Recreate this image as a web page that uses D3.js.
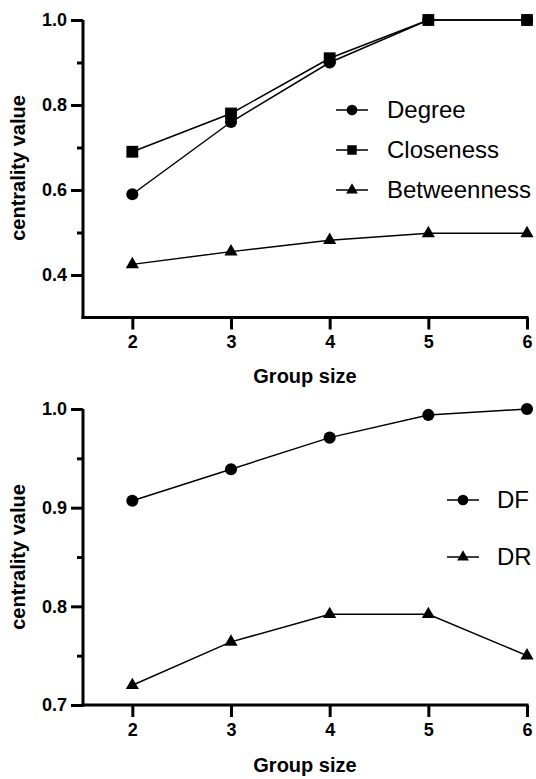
<!DOCTYPE html>
<html>
<head>
<meta charset="utf-8">
<script src="https://cdn.jsdelivr.net/npm/d3@7"></script>
<style>
  html, body { margin: 0; padding: 0; background: #fff; }
  svg { display: block; }
  text { font-family: "Liberation Sans", Arial, sans-serif; fill: #000; }
</style>
</head>
<body>
<svg id="chart" width="536" height="779"></svg>
<script>
// ---- data ----
const groupSizes = [2, 3, 4, 5, 6];
const degree      = [0.59, 0.76, 0.90, 1.00, 1.00];
const closeness   = [0.69, 0.78, 0.91, 1.00, 1.00];
const betweenness = [0.425, 0.455, 0.482, 0.498, 0.498];
const df = [0.907, 0.939, 0.971, 0.994, 1.00];
const dr = [0.72, 0.764, 0.792, 0.792, 0.75];
const topMajorTicks = [0.4, 0.6, 0.8, 1.0];
const topMinorTicks = [0.5, 0.7, 0.9];
const bottomMajorTicks = [0.7, 0.8, 0.9, 1.0];
const bottomMinorTicks = [0.75, 0.85, 0.95];
const xLabel = "Group size";
const yLabel = "centrality value";

const svg = d3.select("#chart");

const symbolFor = {
  circle: d3.symbolCircle,
  square: d3.symbolSquare,
  triangle: d3.symbolTriangle
};

function drawPanel(cfg) {
  const g = svg.append("g");
  const x = d3.scaleLinear().domain([1.5, 6]).range([83, 527]);
  const y = d3.scaleLinear().domain(cfg.yDomain).range([cfg.yBottom, cfg.yTop]);

  // y axis - major
  const yAxis = d3.axisLeft(y).tickValues(cfg.major).tickFormat(d3.format(".1f"))
    .tickSize(12).tickPadding(4).tickSizeOuter(0);
  const ya = g.append("g").attr("transform", "translate(83,0)").call(yAxis);
  ya.select(".domain").attr("stroke-width", 3).attr("d", `M0,${y.range()[0]+1.5}V${y.range()[1]}`);
  ya.selectAll(".tick line").attr("stroke-width", 3);
  ya.selectAll(".tick text").attr("font-size", 18).attr("font-weight", "bold")
    .style("font-family", '"Liberation Sans", Arial, sans-serif');
  // y axis - minor
  const yMinor = d3.axisLeft(y).tickValues(cfg.minor).tickFormat("").tickSize(6).tickSizeOuter(0);
  const ym = g.append("g").attr("transform", "translate(83,0)").call(yMinor);
  ym.select(".domain").remove();
  ym.selectAll(".tick line").attr("stroke-width", 3);

  // x axis
  const xAxis = d3.axisBottom(x).tickValues(groupSizes).tickFormat(d3.format("d"))
    .tickSize(12).tickPadding(6).tickSizeOuter(0);
  const xa = g.append("g").attr("transform", `translate(0,${cfg.yBottom})`).call(xAxis);
  xa.select(".domain").attr("stroke-width", 3).attr("d", `M${83-1.5},0H${x(6)+1.5}`);
  xa.selectAll(".tick line").attr("stroke-width", 3);
  xa.selectAll(".tick text").attr("font-size", 18).attr("font-weight", "bold")
    .style("font-family", '"Liberation Sans", Arial, sans-serif');

  // axis titles
  g.append("text").attr("x", 305).attr("y", cfg.xTitleY).attr("text-anchor", "middle")
    .attr("font-size", 20).attr("font-weight", "bold").text(xLabel);
  g.append("text").attr("transform", `translate(25,${cfg.yTitleY}) rotate(-90)`)
    .attr("text-anchor", "middle").attr("font-size", 20).attr("font-weight", "bold").text(yLabel);

  // series
  const line = d3.line().x((d, i) => x(groupSizes[i])).y(d => y(d));
  cfg.series.forEach(s => {
    g.append("path").datum(s.values).attr("d", line)
      .attr("fill", "none").attr("stroke", "#000").attr("stroke-width", 1.5);
    g.selectAll(null).data(s.values).join("path")
      .attr("transform", (d, i) => `translate(${x(groupSizes[i])},${y(d)})`)
      .attr("d", d3.symbol().type(symbolFor[s.symbol]).size(s.symbol === "triangle" ? 75 : (s.symbol === "square" ? 140 : 115)))
      .attr("fill", "#000");
  });

  // legend
  cfg.series.forEach((s, i) => {
    const ly = cfg.legend.y[i];
    const lx = cfg.legend.x;
    g.append("line").attr("x1", lx - 16).attr("x2", lx + 16).attr("y1", ly).attr("y2", ly)
      .attr("stroke", "#000").attr("stroke-width", 1.5);
    g.append("path").attr("transform", `translate(${lx},${ly})`)
      .attr("d", d3.symbol().type(symbolFor[s.symbol]).size(s.symbol === "triangle" ? 60 : 90))
      .attr("fill", "#000");
    g.append("text").attr("x", cfg.legend.tx).attr("y", ly).attr("dy", "0.35em")
      .attr("font-size", 24).text(s.name);
  });
}

drawPanel({
  yDomain: [0.3, 1.0], yBottom: 317.5, yTop: 20,
  major: topMajorTicks, minor: topMinorTicks,
  xTitleY: 383, yTitleY: 168,
  series: [
    { name: "Degree", values: degree, symbol: "circle" },
    { name: "Closeness", values: closeness, symbol: "square" },
    { name: "Betweenness", values: betweenness, symbol: "triangle" }
  ],
  legend: { x: 352, tx: 387, y: [110, 150, 190] }
});

drawPanel({
  yDomain: [0.7, 1.0], yBottom: 705, yTop: 409,
  major: bottomMajorTicks, minor: bottomMinorTicks,
  xTitleY: 772, yTitleY: 557,
  series: [
    { name: "DF", values: df, symbol: "circle" },
    { name: "DR", values: dr, symbol: "triangle" }
  ],
  legend: { x: 463, tx: 497, y: [500, 557] }
});
</script>
</body>
</html>
